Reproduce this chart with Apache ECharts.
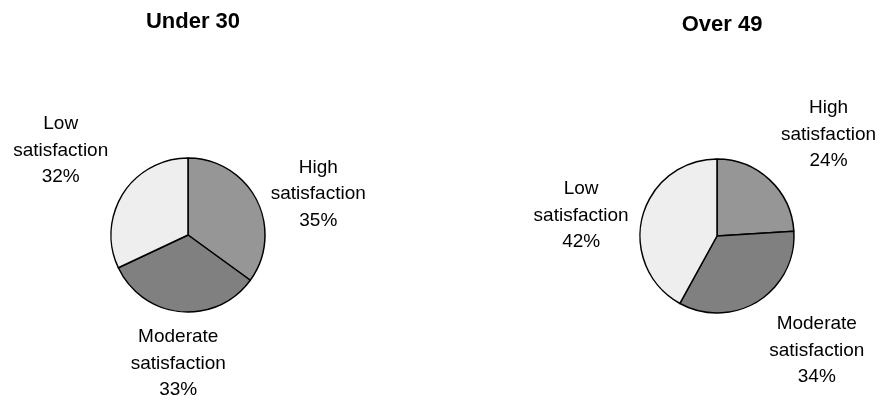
<!DOCTYPE html>
<html>
<head>
<meta charset="utf-8">
<script src="https://cdn.jsdelivr.net/npm/echarts@6/dist/echarts.min.js"></script>
<style>
  html, body { margin: 0; padding: 0; background: #fff; }
  #chart { width: 882px; height: 401px; }
</style>
</head>
<body>
<div id="chart"></div>
<script>
// Job satisfaction by age group
const categories = ['High satisfaction', 'Moderate satisfaction', 'Low satisfaction'];
const groupTitles = ['Under 30', 'Over 49'];
const under30Values = [35, 33, 32];
const over49Values = [24, 34, 42];

// Slice fills, same order as categories
const sliceColors = ['#969696', '#808080', '#eeeeee'];

// Pie geometry (px)
const pieCenters = [[188, 235], [717, 236]];
const pieRadius = 77;
const labelGap = 8;
const titleTops = [6, 9];
// Fine adjustment of each label after it is set outside its slice
const labelNudge = [
  [[7, 22], [2, 4], [-8, -9]],
  [[16, 0], [29, 3], [-6, 13]]
];

const FONT = '"Liberation Sans", Arial, sans-serif';
const allValues = [under30Values, over49Values];

// Middle angle of each slice, degrees clockwise from 12 o'clock
function midAngles(values) {
  const total = values.reduce((s, v) => s + v, 0);
  let acc = 0;
  return values.map(v => {
    const mid = (acc + v / 2) / total * 360;
    acc += v;
    return mid;
  });
}
const mids = allValues.map(midAngles);

function makeLabelLayout(seriesIdx) {
  return function (params) {
    const theta = mids[seriesIdx][params.dataIndex] * Math.PI / 180;
    const ux = Math.sin(theta), uy = -Math.cos(theta);
    const a = params.labelRect.width / 2, b = params.labelRect.height / 2;
    const t = Math.min(
      Math.abs(ux) > 1e-6 ? a / Math.abs(ux) : Infinity,
      Math.abs(uy) > 1e-6 ? b / Math.abs(uy) : Infinity
    );
    const d = pieRadius + labelGap + t;
    const c = pieCenters[seriesIdx];
    const n = labelNudge[seriesIdx][params.dataIndex];
    return {
      x: c[0] + ux * d + n[0],
      y: c[1] + uy * d + n[1],
      align: 'center',
      verticalAlign: 'middle'
    };
  };
}

function makeSeries(idx) {
  return {
    type: 'pie',
    center: pieCenters[idx],
    radius: pieRadius,
    startAngle: 90,
    clockwise: true,
    silent: true,
    animation: false,
    avoidLabelOverlap: false,
    data: categories.map((name, i) => ({
      name: name,
      value: allValues[idx][i],
      itemStyle: { color: sliceColors[i] }
    })),
    itemStyle: { borderColor: '#000', borderWidth: 1.5 },
    label: {
      show: true,
      position: 'outside',
      formatter: p => p.name.replace(' ', '\n') + '\n' + p.value + '%',
      fontFamily: FONT,
      fontSize: 19,
      lineHeight: 26.5,
      color: '#000',
      align: 'center'
    },
    labelLine: { show: false },
    labelLayout: makeLabelLayout(idx),
    emphasis: { disabled: true }
  };
}

const chart = echarts.init(document.getElementById('chart'), null, { renderer: 'canvas' });
chart.setOption({
  backgroundColor: '#ffffff',
  animation: false,
  title: groupTitles.map((t, i) => ({
    text: t,
    left: pieCenters[i][0],
    top: titleTops[i],
    textAlign: 'center',
    textStyle: { fontFamily: FONT, fontSize: 22, fontWeight: 'bold', color: '#000' }
  })),
  series: [makeSeries(0), makeSeries(1)]
});
</script>
</body>
</html>
